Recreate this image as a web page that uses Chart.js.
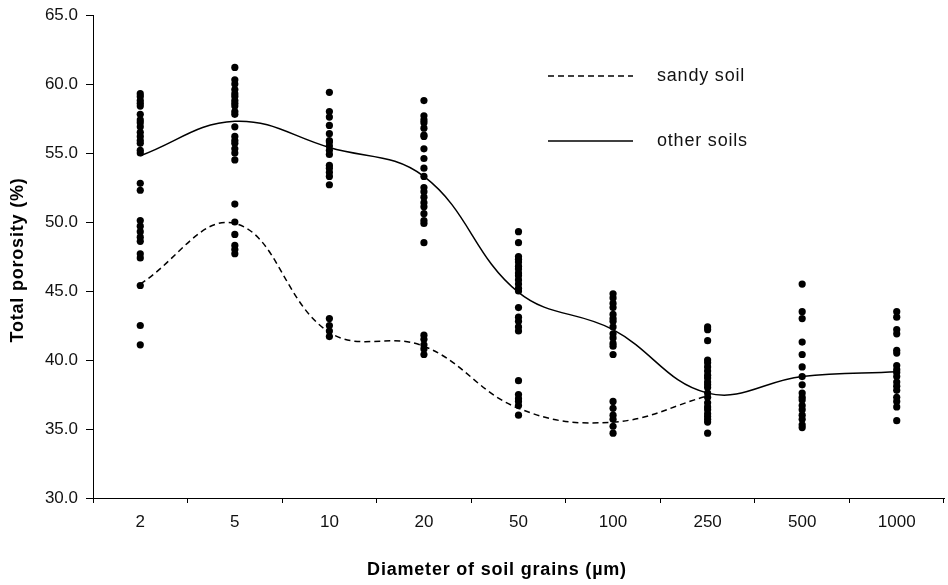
<!DOCTYPE html>
<html>
<head>
<meta charset="utf-8">
<script src="https://cdn.jsdelivr.net/npm/chart.js@4/dist/chart.umd.min.js"></script>
<style>
  html, body { margin: 0; padding: 0; background: #ffffff; }
  #wrap { width: 948px; height: 585px; }
</style>
</head>
<body>
<div id="wrap"><canvas id="c" width="948" height="585"></canvas></div>
<script>
// Categories (grain diameter, µm)
const grains = ['2', '5', '10', '20', '50', '100', '250', '500', '1000'];

// Fitted curves
const sandySoil  = [45.5, 49.9, 42.0, 41.0, 36.5, 35.5, 37.4, null, null];
const otherSoils = [54.8, 57.3, 55.4, 53.3, 44.9, 42.2, 37.6, 38.8, 39.15];

// Observations per grain size
const obs2    = [59.3, 59.1, 58.8, 58.6, 58.4, 57.8, 57.4, 57.2, 56.9, 56.5, 56.2, 55.9, 55.7, 55.2, 55.0, 52.8, 52.3, 50.1, 49.7, 49.3, 48.9, 48.6, 47.7, 47.4, 45.4, 42.5, 41.1];
const obs5    = [61.2, 60.3, 60.0, 59.6, 59.3, 59.1, 58.8, 58.6, 58.4, 58.0, 57.8, 56.9, 56.2, 55.9, 55.7, 55.3, 55.0, 54.5, 51.3, 50.0, 49.1, 48.3, 48.0, 47.7];
const obs10   = [59.4, 58.0, 57.6, 57.0, 56.4, 55.9, 55.8, 55.5, 55.2, 54.9, 54.1, 53.9, 53.6, 53.3, 52.7, 43.0, 42.5, 42.1, 41.7];
const obs20   = [58.8, 57.7, 57.4, 57.2, 56.8, 56.3, 56.2, 55.3, 54.6, 53.9, 53.3, 52.5, 52.2, 51.8, 51.4, 51.1, 50.6, 50.1, 49.9, 48.5, 41.8, 41.5, 41.1, 40.8, 40.4];
const obs50   = [49.3, 48.5, 47.5, 47.3, 47.1, 46.8, 46.6, 46.3, 46.1, 45.8, 45.5, 45.2, 45.0, 43.8, 43.1, 42.8, 42.4, 42.1, 38.5, 37.5, 37.2, 37.0, 36.7, 36.0];
const obs100  = [44.8, 44.5, 44.1, 43.8, 43.3, 43.0, 42.8, 42.4, 41.9, 41.6, 41.2, 41.0, 40.4, 37.0, 36.5, 36.0, 35.7, 35.2, 34.7];
const obs250  = [42.4, 42.2, 41.4, 40.0, 39.8, 39.5, 39.2, 38.9, 38.7, 38.4, 38.2, 38.0, 37.6, 37.3, 36.9, 36.6, 36.4, 36.1, 35.9, 35.7, 35.5, 34.7];
const obs500  = [45.5, 43.5, 43.0, 41.3, 40.4, 39.5, 38.8, 38.2, 37.6, 37.3, 37.1, 36.7, 36.4, 36.0, 35.7, 35.3, 35.1];
const obs1000 = [43.5, 43.1, 42.2, 41.9, 40.7, 40.5, 39.6, 39.3, 39.1, 38.8, 38.4, 38.1, 37.8, 37.3, 37.0, 36.6, 35.6];

// Y axis ticks
const yTicks = [30, 35, 40, 45, 50, 55, 60, 65];

const obsByGrain = [obs2, obs5, obs10, obs20, obs50, obs100, obs250, obs500, obs1000];
const scatterPoints = [];
obsByGrain.forEach((arr, i) => arr.forEach(v => scatterPoints.push({ x: grains[i], y: v })));

const FONT = "'Liberation Sans', Arial, sans-serif";

const overlay = {
  id: 'overlay',
  afterDraw(chart) {
    const ctx = chart.ctx;
    ctx.save();
    // legend
    const items = [
      { ds: chart.data.datasets[0], y: 76 },
      { ds: chart.data.datasets[1], y: 141 }
    ];
    items.forEach(it => {
      ctx.beginPath();
      ctx.setLineDash(it.ds.borderDash || []);
      ctx.lineWidth = 1.5;
      ctx.strokeStyle = '#000';
      ctx.moveTo(548, it.y);
      ctx.lineTo(633, it.y);
      ctx.stroke();
      ctx.setLineDash([]);
      ctx.fillStyle = '#111';
      ctx.font = "18px " + FONT;
      ctx.letterSpacing = '0.8px';
      ctx.textBaseline = 'middle';
      ctx.textAlign = 'left';
      ctx.fillText(it.ds.label, 657, it.y);
    });
    // axis titles
    ctx.font = "bold 18px " + FONT;
    ctx.letterSpacing = '0.8px';
    ctx.fillStyle = '#000';
    ctx.textAlign = 'center';
    ctx.textBaseline = 'middle';
    ctx.fillText('Diameter of soil grains (\u00B5m)', 497, 570);
    ctx.translate(18, 260);
    ctx.rotate(-Math.PI / 2);
    ctx.fillText('Total porosity (%)', 0, 0);
    ctx.restore();
  }
};

new Chart(document.getElementById('c'), {
  type: 'line',
  data: {
    labels: grains,
    datasets: [
      {
        label: 'sandy soil',
        data: sandySoil,
        borderColor: '#000',
        borderWidth: 1.5,
        borderDash: [6, 4],
        pointRadius: 0,
        tension: 0.4,
        fill: false,
        spanGaps: false
      },
      {
        label: 'other soils',
        data: otherSoils,
        borderColor: '#000',
        borderWidth: 1.5,
        pointRadius: 0,
        tension: 0.4,
        fill: false
      },
      {
        label: 'observations',
        data: scatterPoints,
        showLine: false,
        pointRadius: 3.6,
        pointBackgroundColor: '#000',
        pointBorderColor: '#000',
        pointBorderWidth: 0
      }
    ]
  },
  options: {
    responsive: false,
    animation: false,
    devicePixelRatio: 1,
    layout: { padding: { top: 15, right: 0, bottom: 0, left: 0 } },
    plugins: {
      legend: { display: false },
      tooltip: { enabled: false },
      title: { display: false }
    },
    scales: {
      x: {
        type: 'category',
        offset: true,
        afterFit(scale) { scale.height = 87; },
        grid: {
          offset: true,
          drawOnChartArea: false,
          drawTicks: true,
          tickLength: 5,
          color: '#000',
          lineWidth: 1
        },
        border: { display: true, color: '#000', width: 1 },
        ticks: {
          color: '#111',
          font: { family: FONT, size: 17 },
          padding: 9,
          maxRotation: 0,
          autoSkip: false
        }
      },
      y: {
        min: 30,
        max: 65,
        afterFit(scale) { scale.width = 93; },
        afterBuildTicks(scale) { scale.ticks = yTicks.map(v => ({ value: v })); },
        grid: {
          drawOnChartArea: false,
          drawTicks: true,
          tickLength: 7,
          color: '#000',
          lineWidth: 1
        },
        border: { display: true, color: '#000', width: 1 },
        ticks: {
          color: '#111',
          font: { family: FONT, size: 17, lineHeight: 0.7 },
          padding: 8,
          callback: v => Number(v).toFixed(1)
        }
      }
    }
  },
  plugins: [overlay]
});
</script>
</body>
</html>
